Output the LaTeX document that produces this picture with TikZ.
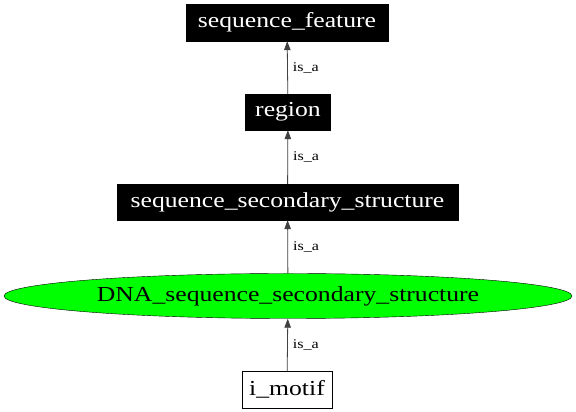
\documentclass[tikz,border=0pt]{standalone}
\usepackage{fontspec}
\setmainfont{Liberation Serif}
\newfontfamily\gvfont[FakeStretch=1.2]{Liberation Serif}
\usetikzlibrary{shapes.geometric}
\usetikzlibrary{arrows.meta}

\begin{document}
\begin{tikzpicture}[x=1pt, y=1pt,
  term/.style={draw, fill=black, text=white, inner sep=0pt, font=\gvfont\fontsize{21.4}{25}\selectfont, minimum height=36},
  plain/.style={draw, fill=white, inner sep=0pt, font=\gvfont\fontsize{21.4}{25}\selectfont, minimum height=37},
  isa/.style={draw=black!75, line width=0.8pt, -{Triangle[length=9pt, width=6.5pt]}},
  lbl/.style={right, font=\gvfont\fontsize{13.4}{16}\selectfont, inner sep=5pt}]
\useasboundingbox (0, 0) rectangle (576, 412);
\node[term, minimum width=202, minimum height=37] (feature) at (287, 389.5) {sequence\_feature};
\node[term, minimum width=85] (region) at (288, 300) {region};
\node[term, minimum width=341] (secstruct) at (287.5, 210) {sequence\_secondary\_structure};
\node[draw, ellipse, fill=green, inner sep=0pt, minimum width=568, minimum height=45, font=\gvfont\fontsize{21.4}{25}\selectfont] (dnass) at (288, 116) {DNA\_sequence\_secondary\_structure};
\node[plain, minimum width=90] (imotif) at (287, 22.5) {i\_motif};
\draw[isa] (region) -- (feature) node[midway, lbl] {is\_a};
\draw[isa] (secstruct) -- (region) node[midway, lbl] {is\_a};
\draw[isa] (dnass) -- (secstruct) node[midway, lbl] {is\_a};
\draw[isa] (imotif) -- (dnass) node[midway, lbl] {is\_a};
\end{tikzpicture}
\end{document}
